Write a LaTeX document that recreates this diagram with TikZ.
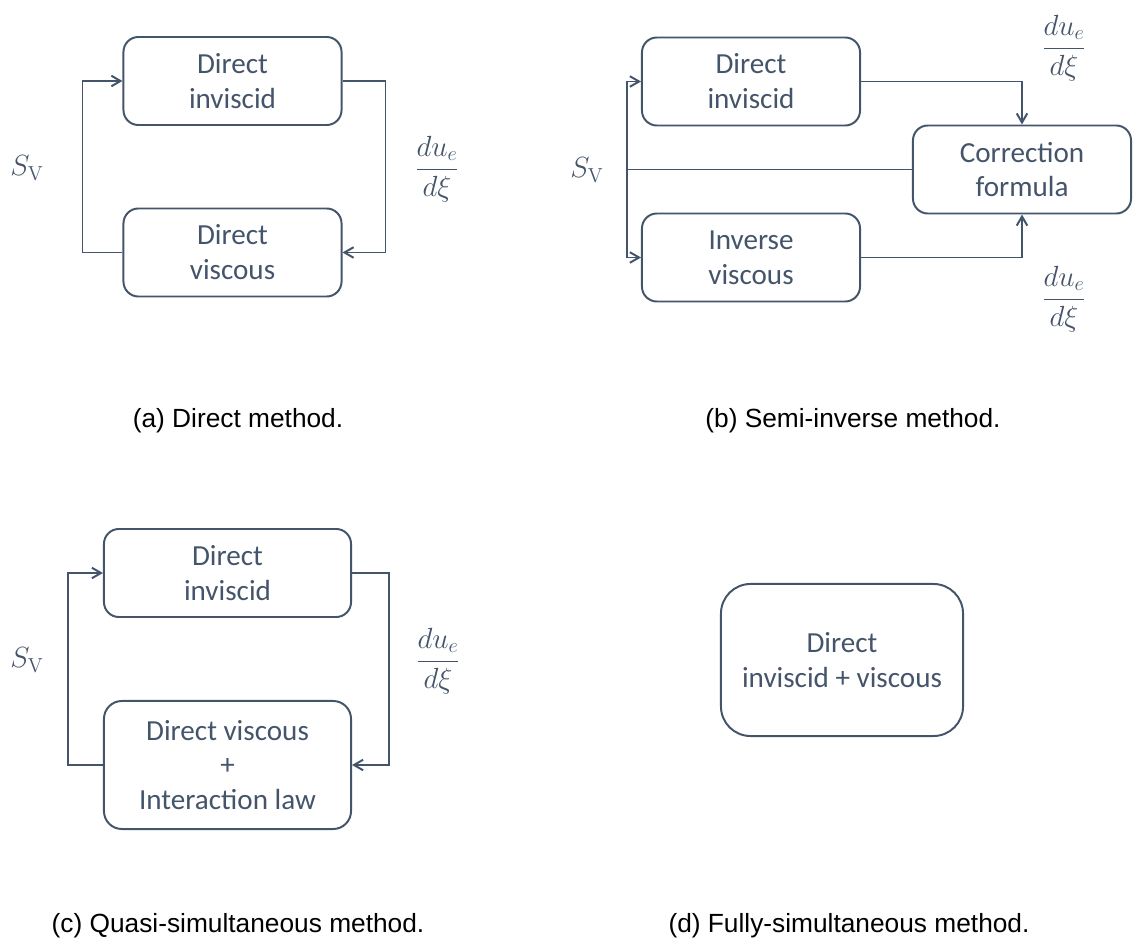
\documentclass[tikz,border=0pt]{standalone}
\usepackage[no-math]{fontspec}
\setmainfont{Liberation Sans}
\newfontfamily\boxfont{Carlito}
\usetikzlibrary{arrows.meta}
\definecolor{slate}{HTML}{44546A}

\begin{document}
\begin{tikzpicture}[x=0.025cm,y=-0.025cm,
                    box/.style={draw=slate,line width=1.4pt,rounded corners=10.6pt,
                                text=slate,align=center,inner sep=0pt,
                                font=\boxfont\fontsize{20.7}{24.8}\selectfont,
                                minimum width=5.45cm,minimum height=2.2cm},
                    link/.style={draw=slate,line width=1.4pt},
                    arr/.style={link,-{Straight Barb[length=6.5pt,width=7.5pt]}},
                    sym/.style={text=slate,font=\fontsize{21.5}{25}\selectfont},
                    subcap/.style={anchor=base,font=\fontsize{18.7}{22.4}\selectfont},
                    ]
                    \useasboundingbox (0,0) rectangle (1134,938);
                    %(a) direkte Methode
                    \node[box] (dinva) at (232.5,81) {Direct\\inviscid};
                    \node[box] (dvisa) at (232.5,252.5) {Direct\\viscous};
                    \draw[arr] (dvisa.west) -- ++(-40,0) |- (dinva.west);
                    \draw[arr] (dinva.east) -- ++(43,0) |- (dvisa.east);
                    \node[sym] (sva) at (27,168) {$S_{\mathrm{V}}$};
                    \node[sym] (dua) at (437,169) {$\displaystyle\frac{du_e}{d\xi}$};
                    %(b) semi-inverse Methode
                    \node[box] (dinvb) at (751,81.5) {Direct\\inviscid};
                    \node[box] (corrb) at (1022,169.5) {Correction\\formula};
                    \node[box] (ivisb) at (751,257.5) {Inverse\\viscous};
                    \coordinate (splitb) at (627,169.5);
                    \draw[link] (splitb) -- (corrb.west);
                    \draw[arr] (splitb) |- (dinvb.west);
                    \draw[arr] (splitb) |- (ivisb.west);
                    \draw[arr] (dinvb.east) -| (corrb.north);
                    \draw[arr] (ivisb.east) -| (corrb.south);
                    \node[sym] (svb) at (587,170) {$S_{\mathrm{V}}$};
                    \node[sym] (dub1) at (1064,48) {$\displaystyle\frac{du_e}{d\xi}$};
                    \node[sym] (dub2) at (1064,299) {$\displaystyle\frac{du_e}{d\xi}$};
                    %(c) quasi-simultane Methode
                    \node[box,minimum width=6.175cm] (dinvc) at (227.5,573) {Direct\\inviscid};
                    \node[box,minimum width=6.175cm,minimum height=3.2cm,rounded corners=12.7pt] (dvisc) at (227.5,765) {Direct viscous\\+\\Interaction law};
                    \draw[arr] (dvisc.west) -- ++(-35,0) |- (dinvc.west);
                    \draw[arr] (dinvc.east) -- ++(37,0) |- (dvisc.east);
                    \node[sym] (svc) at (27,660) {$S_{\mathrm{V}}$};
                    \node[sym] (duc) at (438,661) {$\displaystyle\frac{du_e}{d\xi}$};
                    %(d) voll-simultane Methode
                    \node[box,minimum width=6.05cm,minimum height=3.8cm,rounded corners=21pt] (dfull) at (842,660) {Direct\\inviscid + viscous};
                    %Unterschriften
                    \node[subcap] (capa) at (238,428) {(a) Direct method.};
                    \node[subcap] (capb) at (853,428) {(b) Semi-inverse method.};
                    \node[subcap] (capc) at (238,932) {(c) Quasi-simultaneous method.};
                    \node[subcap] (capd) at (849,932) {(d) Fully-simultaneous method.};
\end{tikzpicture}
\end{document}
